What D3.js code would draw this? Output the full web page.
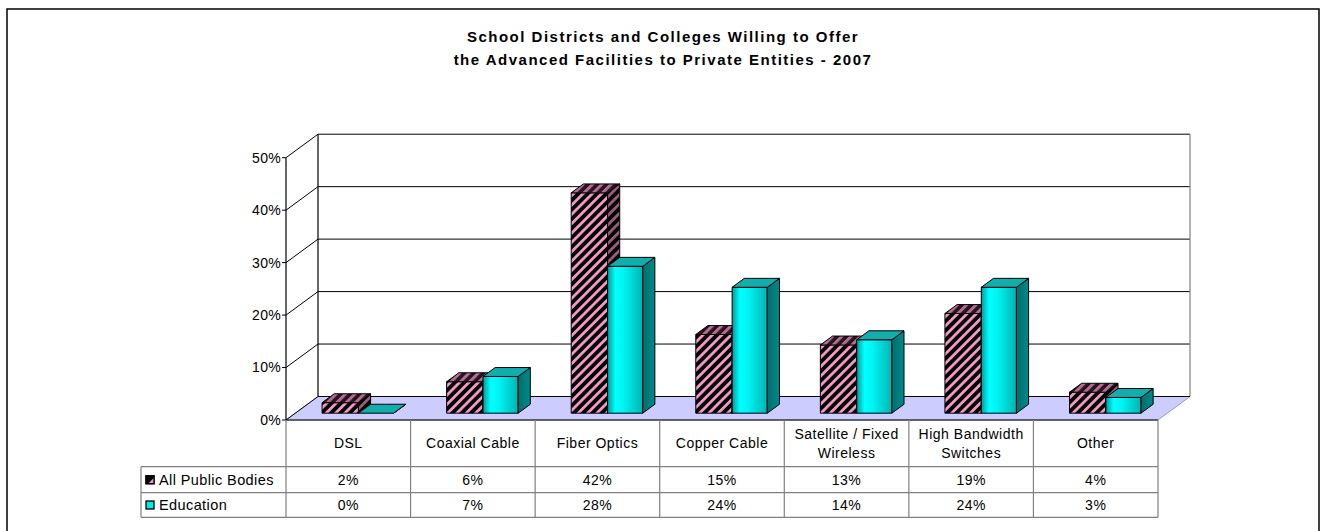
<!DOCTYPE html>
<html><head><meta charset="utf-8">
<script src="https://cdn.jsdelivr.net/npm/d3@7"></script>
<style>
html,body{margin:0;padding:0;background:#fff;}
svg{display:block;font-family:"Liberation Sans",Arial,sans-serif;}
</style></head>
<body>
<svg id="c" width="1321" height="531"></svg>
<script>
const categories = ["DSL","Coaxial Cable","Fiber Optics","Copper Cable","Satellite / Fixed Wireless","High Bandwidth Switches","Other"];
const categoryLines = [["DSL"],["Coaxial Cable"],["Fiber Optics"],["Copper Cable"],["Satellite / Fixed","Wireless"],["High Bandwidth","Switches"],["Other"]];
const seriesNames = ["All Public Bodies","Education"];
const allPublicBodies = [2,6,42,15,13,19,4];
const education = [0,7,28,24,14,24,3];
const yTicks = [0,10,20,30,40,50];
const titleLines = ["School Districts and Colleges Willing to Offer","the Advanced Facilities to Private Entities - 2007"];

const svg = d3.select("#c");
const defs = svg.append("defs");

function stripe(id, bg, fg, w){
  const p = defs.append("pattern").attr("id",id).attr("patternUnits","userSpaceOnUse")
    .attr("width",6.6).attr("height",6.6).attr("patternTransform","rotate(45)");
  p.append("rect").attr("width",6.6).attr("height",6.6).attr("fill",bg);
  p.append("rect").attr("width",w).attr("height",6.6).attr("fill",fg);
}
stripe("pinkFront","#000","#f398c8",2.8);
stripe("pinkSide","#000","#9c5c80",2.8);
stripe("pinkTop","#2a1020","#b0708f",3);

const g1 = defs.append("linearGradient").attr("id","tealFront").attr("x1","0").attr("x2","1").attr("y1","0").attr("y2","0");
g1.append("stop").attr("offset","0%").attr("stop-color","#009a9a");
g1.append("stop").attr("offset","22%").attr("stop-color","#00ffff");
g1.append("stop").attr("offset","45%").attr("stop-color","#00f4f4");
g1.append("stop").attr("offset","100%").attr("stop-color","#00b4b4");
const g2 = defs.append("linearGradient").attr("id","tealSide").attr("x1","0").attr("x2","1").attr("y1","0").attr("y2","0");
g2.append("stop").attr("offset","0%").attr("stop-color","#006e6e");
g2.append("stop").attr("offset","100%").attr("stop-color","#008a8a");

// Outer border
svg.append("rect").attr("x",7).attr("y",9).attr("width",1312).attr("height",540)
  .attr("fill","#fff").attr("stroke","#000").attr("stroke-width",1.5);

// Title
svg.append("g").selectAll("text").data(titleLines).join("text")
  .attr("x",663).attr("y",(d,i)=>42+i*23).attr("text-anchor","middle")
  .attr("font-weight","bold").attr("font-size",15).attr("letter-spacing","1.5").attr("fill","#000").text(d=>d);

// Geometry
const X0 = 286, X1 = 1158;
const DX = 32, DY = -23.5;
const x = d3.scaleBand().domain(categories).range([X0,X1]);
const y = d3.scaleLinear().domain([0,50]).range([420,157.7]);
const bw = x.bandwidth();

// Floor
const floorPts = [[X0,y(0)],[X1,y(0)],[X1+DX,y(0)+DY],[X0+DX,y(0)+DY]];
svg.append("polygon").attr("points",floorPts.map(p=>p.join(",")).join(" "))
  .attr("fill","#ccccff").attr("stroke","#9a9ac0").attr("stroke-width",1);

// Back wall gridlines
const grid = svg.append("g");
yTicks.filter(t=>t>0).forEach(t=>{
  grid.append("line").attr("x1",X0+DX).attr("x2",X1+DX).attr("y1",y(t)+DY).attr("y2",y(t)+DY)
    .attr("stroke","#000").attr("stroke-width",1);
});
yTicks.forEach(t=>{
  grid.append("line").attr("x1",X0).attr("y1",y(t)).attr("x2",X0+DX).attr("y2",y(t)+DY)
    .attr("stroke","#000").attr("stroke-width",1);
});
grid.append("line").attr("x1",X0+DX).attr("x2",X0+DX).attr("y1",y(50)+DY).attr("y2",y(0)+DY).attr("stroke","#000").attr("stroke-width",1.2);
grid.append("line").attr("x1",X1+DX).attr("x2",X1+DX).attr("y1",y(50)+DY).attr("y2",y(0)+DY).attr("stroke","#808080").attr("stroke-width",1.2);
grid.append("line").attr("x1",X0+DX).attr("x2",X1+DX).attr("y1",y(0)+DY).attr("y2",y(0)+DY).attr("stroke","#000").attr("stroke-width",1);

// Front y axis
const axisG = svg.append("g");
axisG.append("line").attr("x1",X0).attr("x2",X0).attr("y1",y(50)).attr("y2",y(0)).attr("stroke","#000").attr("stroke-width",1.2);
yTicks.forEach(t=>{
  axisG.append("line").attr("x1",X0-4).attr("x2",X0).attr("y1",y(t)).attr("y2",y(t)).attr("stroke","#000");
  axisG.append("text").attr("x",X0-5).attr("y",y(t)).attr("dy","0.35em").attr("text-anchor","end")
    .attr("font-size",14).attr("letter-spacing","0.3").text(t+"%");
});

// Bars
const f0 = 0.29, bd = 0.38;
const ox = f0*DX, oy = f0*DY, ddx = bd*DX, ddy = bd*DY;
const series = [
  {vals: allPublicBodies, start: 0.215, w: 0.292, front:"url(#pinkFront)", side:"url(#pinkSide)", top:"url(#pinkTop)"},
  {vals: education, start: 0.507, w: 0.282, front:"url(#tealFront)", side:"url(#tealSide)", top:"#12adad"}
];
const barsG = svg.append("g");
categories.forEach((c,i)=>{
  series.forEach(s=>{
    const v = s.vals[i];
    const xl = x(c) + s.start*bw + ox;
    const xr = xl + s.w*bw;
    const yb = y(0) + oy;
    const yt = y(v) + oy;
    const g = barsG.append("g").attr("stroke","#000").attr("stroke-width",1).attr("stroke-linejoin","round");
    g.append("rect").attr("x",xl).attr("y",yt).attr("width",xr-xl).attr("height",Math.max(0,yb-yt)).attr("fill",s.front);
    g.append("polygon").attr("points",[[xr,yt],[xr+ddx,yt+ddy],[xr+ddx,yb+ddy],[xr,yb]].map(p=>p.join(",")).join(" ")).attr("fill",s.side);
    g.append("polygon").attr("points",[[xl,yt],[xl+ddx,yt+ddy],[xr+ddx,yt+ddy],[xr,yt]].map(p=>p.join(",")).join(" ")).attr("fill",s.top);
  });
});

// Floor front edge
svg.append("line").attr("x1",X0).attr("x2",X1).attr("y1",y(0)).attr("y2",y(0)).attr("stroke","#000").attr("stroke-width",1.2);

// Data table
const rowY = [420, 466.7, 492.7, 517.3];
const LX = 141;
const tbl = svg.append("g").attr("stroke","#808080").attr("stroke-width",1.2);
const colEdges = categories.map(c=>x(c)).concat([X1]);
colEdges.forEach(cx=>{
  tbl.append("line").attr("x1",cx).attr("x2",cx).attr("y1",rowY[0]).attr("y2",rowY[3]);
});
[rowY[1],rowY[2],rowY[3]].forEach(ry=>{
  tbl.append("line").attr("x1",LX).attr("x2",X1).attr("y1",ry).attr("y2",ry);
});
tbl.append("line").attr("x1",LX).attr("x2",LX).attr("y1",rowY[1]).attr("y2",rowY[3]);

const txt = svg.append("g").attr("font-size",14).attr("fill","#000").attr("text-anchor","middle").attr("letter-spacing","0.5");
categories.forEach((c,i)=>{
  const lines = categoryLines[i];
  const cy = (rowY[0]+rowY[1])/2;
  lines.forEach((l,j)=>{
    txt.append("text").attr("x",x(c)+bw/2).attr("y",cy + (j-(lines.length-1)/2)*19).attr("dy","0.35em").text(l);
  });
  txt.append("text").attr("x",x(c)+bw/2).attr("y",(rowY[1]+rowY[2])/2).attr("dy","0.35em").text(allPublicBodies[i]+"%");
  txt.append("text").attr("x",x(c)+bw/2).attr("y",(rowY[2]+rowY[3])/2).attr("dy","0.35em").text(education[i]+"%");
});

// Legend keys in table
const leg = svg.append("g");
seriesNames.forEach((n,i)=>{
  const cy = (rowY[i+1]+rowY[i+2])/2;
  const sx = 146, sz = 8;
  leg.append("rect").attr("x",sx).attr("y",cy-sz/2).attr("width",sz).attr("height",sz)
    .attr("fill", i===0 ? "#000" : "#00e8e8").attr("stroke","#000").attr("stroke-width",1.3);
  if(i===0){
    leg.append("polygon").attr("points",[[sx+sz,cy-sz/2+2],[sx+sz,cy+sz/2],[sx+2,cy+sz/2]].map(p=>p.join(",")).join(" ")).attr("fill","#f398c8");
    leg.append("rect").attr("x",sx).attr("y",cy-sz/2).attr("width",sz).attr("height",sz).attr("fill","none").attr("stroke","#000").attr("stroke-width",1.3);
  }
  leg.append("text").attr("x",159).attr("y",cy).attr("dy","0.35em").attr("font-size",14.5).attr("letter-spacing","0.4").text(n);
});
</script>
</body></html>
